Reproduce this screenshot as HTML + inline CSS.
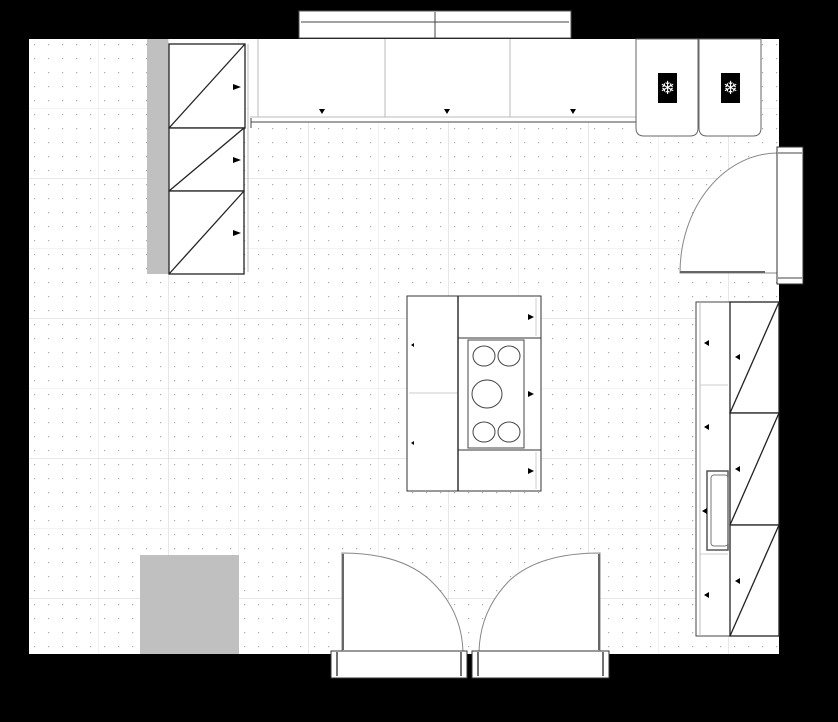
<!DOCTYPE html>
<html><head><style>body{margin:0;background:#000}svg{display:block}</style></head><body>
<svg width="838" height="722" xmlns="http://www.w3.org/2000/svg">
<defs>
<pattern id="dots" x="28" y="38" width="14" height="14" patternUnits="userSpaceOnUse"><rect x="6" y="6" width="1.2" height="1.2" fill="#aaa"/></pattern>
<pattern id="grid" x="28" y="38" width="70" height="70" patternUnits="userSpaceOnUse"><path d="M0 0H70M0 0V70" stroke="#e6e6e6" stroke-width="1" fill="none"/></pattern>
<pattern id="grid2" x="28" y="38" width="140" height="140" patternUnits="userSpaceOnUse"><path d="M0 0H140M0 0V140" stroke="#cfcfcf" stroke-width="1" fill="none"/></pattern>
</defs>
<rect width="838" height="722" fill="#000"/>
<rect x="29" y="39" width="750" height="615" fill="#fff"/>
<rect x="29" y="39" width="750" height="615" fill="url(#dots)"/>
<rect x="29" y="39" width="750" height="615" fill="url(#grid)"/>
<rect x="29" y="39" width="750" height="615" fill="url(#grid2)"/>
<rect x="299" y="11" width="272" height="27" fill="#fff" stroke="#555"/>
<path d="M301 22H569M435 12V38" stroke="#444"/>
<rect x="147" y="39" width="21" height="235" fill="#c0c0c0"/>
<g stroke="#222" stroke-width="1.3" fill="#fff">
<rect x="169" y="44" width="76" height="84"/><line x1="169" y1="128" x2="245" y2="44"/>
<rect x="169" y="128" width="75" height="63"/><line x1="169" y1="191" x2="244" y2="128"/>
<rect x="169" y="191" width="75" height="83"/><line x1="169" y1="274" x2="244" y2="191"/>
</g>
<line x1="248" y1="44" x2="248" y2="272" stroke="#bbb"/>
<path d="M233 84l8 3-8 3z M233 157l8 3-8 3z M233 230l8 3-8 3z" fill="#000"/>
<rect x="250" y="39" width="386" height="83" fill="#fff"/>
<path d="M258 39V117M385 39V117M510 39V117M250 117H636" stroke="#bbb"/>
<line x1="251" y1="122" x2="636" y2="122" stroke="#444"/>
<line x1="251" y1="118" x2="251" y2="128" stroke="#444"/>
<path d="M319 109l3 5 3-5z M444 109l3 5 3-5z M570 109l3 5 3-5z" fill="#000"/>
<path d="M636 39V128q0 8 8 8H690q8 0 8-8V39z" fill="#fff" stroke="#666"/>
<path d="M699 39V128q0 8 8 8H753q8 0 8-8V39z" fill="#fff" stroke="#666"/>
<rect x="658" y="73" width="19" height="30" fill="#000"/>
<rect x="721" y="73" width="19" height="30" fill="#000"/>
<text x="667.5" y="94" font-size="18" fill="#fff" text-anchor="middle" font-family="DejaVu Sans">❄</text>
<text x="730.5" y="94" font-size="18" fill="#fff" text-anchor="middle" font-family="DejaVu Sans">❄</text>
<path d="M778 153A98 120 0 0 0 680 273H778z" fill="#fff" stroke="#888"/>
<line x1="680" y1="272" x2="765" y2="272" stroke="#666" stroke-width="2"/>
<rect x="777" y="147" width="26" height="137" fill="#fff" stroke="#333"/>
<path d="M778 153H802M778 278H802" stroke="#444"/>
<rect x="407" y="296" width="134" height="195" fill="#fff" stroke="#333"/>
<line x1="458" y1="296" x2="458" y2="491" stroke="#333" stroke-width="1.5"/>
<line x1="409" y1="393" x2="457" y2="393" stroke="#ccc"/>
<path d="M458 338H541M458 450H541" stroke="#333"/>
<path d="M536 298V336M536 452V489" stroke="#ccc"/>
<rect x="468" y="340" width="56" height="108" fill="#fff" stroke="#444"/>
<g fill="none" stroke="#444"><ellipse cx="484" cy="356" rx="11" ry="10"/><ellipse cx="509" cy="356" rx="11" ry="10"/><ellipse cx="487" cy="394" rx="15" ry="14"/><ellipse cx="484" cy="432" rx="11" ry="10"/><ellipse cx="509" cy="432" rx="11" ry="10"/></g>
<path d="M411 345l3-2v4z M411 443l3-2v4z M528 314l6 3-6 3z M528 391l6 3-6 3z M528 468l6 3-6 3z" fill="#000"/>
<rect x="696" y="302" width="34" height="334" fill="#fff" stroke="#444"/>
<line x1="700" y1="302" x2="700" y2="636" stroke="#bbb"/>
<path d="M700 385H728M700 554H728" stroke="#ccc"/>
<rect x="707" y="471" width="21" height="79" fill="#fff" stroke="#555" stroke-width="1.5"/>
<rect x="711" y="475" width="17" height="71" rx="3" fill="none" stroke="#777"/>
<g stroke="#222" stroke-width="1.3" fill="#fff">
<rect x="730" y="302" width="49" height="111"/><line x1="730" y1="413" x2="779" y2="302"/>
<rect x="730" y="413" width="49" height="112"/><line x1="730" y1="525" x2="779" y2="413"/>
<rect x="730" y="525" width="49" height="111"/><line x1="730" y1="636" x2="779" y2="525"/>
</g>
<path d="M704 343l5-3v6z M704 427l5-3v6z M702 511l5-3v6z M704 595l5-3v6z M735 357l5-3v6z M735 469l5-3v6z M735 581l5-3v6z" fill="#000"/>
<rect x="140" y="555" width="99" height="99" fill="#c0c0c0"/>
<path d="M342 553Q400 553 430 580Q462 610 463 652H342z" fill="#fff" stroke="#888"/>
<line x1="343" y1="554" x2="343" y2="650" stroke="#666" stroke-width="2"/>
<path d="M600 553Q540 553 510 580Q480 610 479 652H600z" fill="#fff" stroke="#888"/>
<line x1="599" y1="554" x2="599" y2="650" stroke="#666" stroke-width="2"/>
<rect x="331" y="651" width="136" height="27" fill="#fff" stroke="#333"/>
<rect x="472" y="651" width="137" height="27" fill="#fff" stroke="#333"/>
<path d="M337 652V676M461 652V676M478 652V676M603 652V676" stroke="#444" stroke-width="1.5"/>
</svg>
</body></html>
